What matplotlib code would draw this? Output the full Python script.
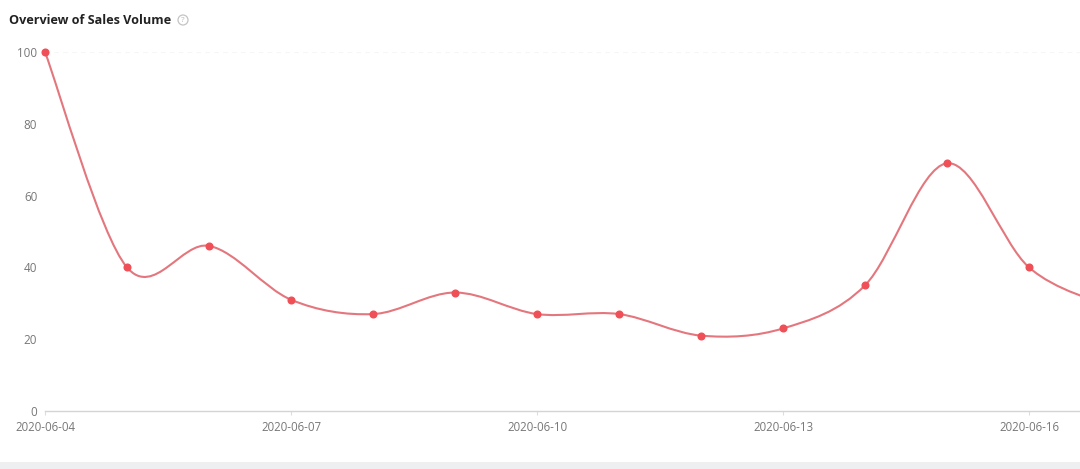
import matplotlib
matplotlib.use("Agg")
import matplotlib.pyplot as plt
from matplotlib.path import Path
from matplotlib.patches import PathPatch, Rectangle, Circle
import numpy as np

dates = ["2020-06-04","2020-06-05","2020-06-06","2020-06-07","2020-06-08","2020-06-09","2020-06-10",
         "2020-06-11","2020-06-12","2020-06-13","2020-06-14","2020-06-15","2020-06-16","2020-06-17"]
sales = [100, 40, 46, 31, 27, 33, 27, 27, 21, 23, 35, 69, 40, 29]
y_ticks = [0, 20, 40, 60, 80, 100]
x_tick_idx = [0, 3, 6, 9, 12]
title = "Overview of Sales Volume"

W, H = 1080, 469
plt.rcParams['font.family'] = ['Open Sans', 'DejaVu Sans']
fig = plt.figure(figsize=(W/100, H/100), dpi=100, facecolor='white')
ax = fig.add_axes([45/W, 1-411/H, (W-45)/W, (411-52)/H])
ax.set_xlim(0, (W-45)/82)
ax.set_ylim(0, 100)
ax.patch.set_alpha(0)
for s in ['top','right','left']:
    ax.spines[s].set_visible(False)
ax.spines['bottom'].set_color('#d4d4d4')
ax.spines['bottom'].set_linewidth(1)

# smooth curve through points as cubic Bezier segments
x = np.arange(len(sales), dtype=float)
y = np.array(sales, dtype=float)
t = 0.165
verts = [(x[0], y[0])]
codes = [Path.MOVETO]
n = len(x)
for i in range(n-1):
    a = max(i-1, 0); d = min(i+2, n-1)
    c1 = (x[i] + t*(x[i+1]-x[a]), y[i] + t*(y[i+1]-y[a]))
    c2 = (x[i+1] - t*(x[d]-x[i]), y[i+1] - t*(y[d]-y[i]))
    verts += [c1, c2, (x[i+1], y[i+1])]
    codes += [Path.CURVE4]*3
ax.add_patch(PathPatch(Path(verts, codes), fill=False, edgecolor='#e4767d', lw=1.5, clip_on=False, zorder=3))
ax.plot(x, y, ls='none', marker='o', ms=4.8, mfc='#ef5058', mec='#ef5058', clip_on=False, zorder=4)

ax.axhline(100, color='#f6f6f6', lw=0.8, ls=(0, (4, 4)), zorder=1)

ax.set_yticks(y_ticks)
ax.set_xticks(x_tick_idx)
ax.set_xticklabels([dates[i] for i in x_tick_idx])
ax.tick_params(axis='y', length=0, pad=5.5, labelsize=8.4, labelcolor='#777777')
ax.tick_params(axis='x', length=3, width=0.8, color='#dddddd', pad=4.2, labelsize=8.3, labelcolor='#777777')

fig.text(9/W, 1-20/H, title, fontsize=9.1, fontweight='bold', color='#222222', va='center', ha='left')
fig.add_artist(Circle((183, H-20), 5, transform=None, fill=False, edgecolor='#c4c4c4', lw=0.9))
fig.text(183/W, 1-20/H, "?", fontsize=6, color='#b8b8b8', va='center', ha='center')
fig.add_artist(Rectangle((0, 0), 1, 7/H, transform=fig.transFigure, facecolor='#eeeff1', edgecolor='none'))

fig.savefig("out.png", dpi=100)
